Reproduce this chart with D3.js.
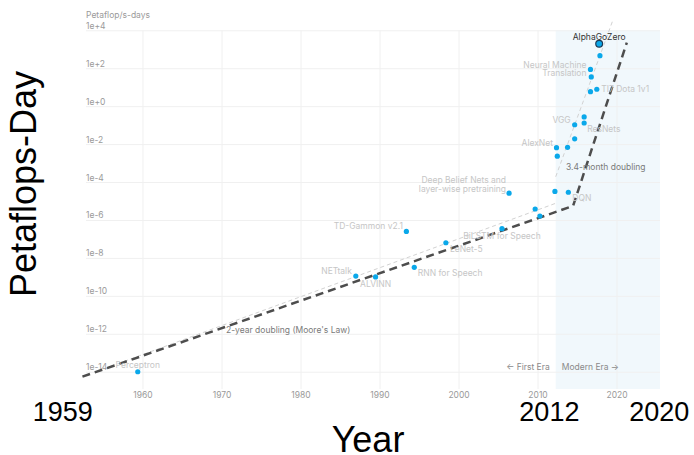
<!DOCTYPE html>
<html>
<head>
<meta charset="utf-8">
<script src="https://cdn.jsdelivr.net/npm/d3@7"></script>
<style>
  body { margin: 0; background: #fff; }
</style>
</head>
<body>
<div class="chart"></div>
<script>
// compute used by AI training runs, petaflop/s-days (log scale) vs year

const systemNames = ["Perceptron", "NETtalk", "ALVINN", "TD-Gammon v2.1", "RNN for Speech",
  "LeNet-5", "BiLSTM for Speech", "Deep Belief Nets and\nlayer-wise pretraining", "", "", "",
  "DQN", "AlexNet", "", "", "", "VGG", "", "ResNets", "", "TI7 Dota 1v1",
  "Neural Machine\nTranslation", "", "", "AlphaGoZero"];
const systemYears = [1959.4, 1987.0, 1989.5, 1993.4, 1994.4,
  1998.4, 2005.5, 2006.4, 2009.7, 2010.3, 2012.2,
  2013.9, 2012.4, 2013.8, 2012.5, 2014.7, 2014.7, 2015.9, 2015.9, 2016.7, 2017.5,
  2016.7, 2016.8, 2017.9, 2017.8];
const systemCompute = [1e-14, 1.1e-9, 1.0e-9, 2.5e-7, 3.2e-9,
  6.3e-8, 3.5e-7, 2.6e-5, 3.8e-6, 1.6e-6, 3.2e-5,
  2.9e-5, 6.5e-3, 6.8e-3, 2.3e-3, 1.9e-2, 0.105, 0.27, 0.13, 5.8, 7.8,
  87, 35, 457, 1950];

// fitted trends: [year, petaflop/s-days]
const overallTrend = [[1952.4, 5.5e-15], [2014.5, 5.5e-6], [2021.3, 2240]];
const firstEraFit = [[1956, 1.95e-14], [2012.3, 7.6e-6]];
const modernEraFit = [[2012.3, 1.9e-4], [2019.5, 3.1e4]];

const yearTicks = [1960, 1970, 1980, 1990, 2000, 2010, 2020];
const computeTicks = [1e4, 1e2, 1e0, 1e-2, 1e-4, 1e-6, 1e-8, 1e-10, 1e-12, 1e-14];
const computeTickLabels = ["1e+4", "1e+2", "1e+0", "1e-2", "1e-4", "1e-6", "1e-8", "1e-10", "1e-12", "1e-14"];

const modernEraStart = 2012.3;
const yearRange = [1952.85, 2025.5];
const computeRange = [1.23e-15, 1e4];

const bigYearLabels = ["1959", "2012", "2020"];
const bigYearAt = [1949.9, 2011.5, 2025.4];

// layout
const width = 694;
const height = 455;
const plot = {left: 86, right: 660, top: 30.3, bottom: 389};
const small = 'Inter, "Noto Sans", sans-serif';
const big = '"Liberation Sans", Arial, sans-serif';

// where each annotation sits relative to its dot
const labelPlace = {
  "Perceptron": {anchor: "middle", dx: 0, dy: -7},
  "NETtalk": {anchor: "end", dx: -4, dy: -5},
  "ALVINN": {anchor: "middle", dx: 0, dy: 7},
  "TD-Gammon v2.1": {anchor: "end", dx: -3.5, dy: -5},
  "RNN for Speech": {anchor: "start", dx: 3.5, dy: 6},
  "LeNet-5": {anchor: "start", dx: 4, dy: 6},
  "BiLSTM for Speech": {anchor: "middle", dx: 0, dy: 7.5},
  "Deep Belief Nets and\nlayer-wise pretraining": {anchor: "end", dx: -3, dy: -13.3},
  "DQN": {anchor: "start", dx: 4, dy: 6},
  "AlexNet": {anchor: "end", dx: -3.5, dy: -4.7},
  "VGG": {anchor: "end", dx: -4, dy: -4.7},
  "ResNets": {anchor: "start", dx: 3, dy: 5.7},
  "TI7 Dota 1v1": {anchor: "start", dx: 4.4, dy: 0},
  "Neural Machine\nTranslation": {anchor: "end", dx: -4, dy: -4.6},
  "AlphaGoZero": {anchor: "middle", dx: 0, dy: -7}
};

const systems = systemNames.map((n, i) => ({name: n, year: systemYears[i], pfs: systemCompute[i]}));

const x = d3.scaleLinear().domain(yearRange).range([plot.left, plot.right]);
const y = d3.scaleLog().domain(computeRange).range([plot.bottom, plot.top]);

const svg = d3.select('.chart')
  .append('svg')
  .attr('width', width)
  .attr('height', height);

// modern era shading
svg.append('rect')
  .attr('x', x(modernEraStart))
  .attr('y', y(computeRange[1]))
  .attr('width', x(yearRange[1]) - x(modernEraStart))
  .attr('height', y(computeRange[0]) - y(computeRange[1]))
  .attr('fill', '#f1f8fc');

// grid + axes
const xAxis = svg.append('g')
  .attr('transform', `translate(0,${plot.bottom})`)
  .call(d3.axisBottom(x).tickValues(yearTicks).tickFormat(d3.format('d'))
    .tickSize(-(plot.bottom - plot.top)).tickPadding(3));
xAxis.select('.domain').remove();
xAxis.selectAll('line').attr('stroke', '#f0f0f0');
xAxis.selectAll('text').attr('fill', '#9a9a9a')
  .style('font-size', '8.5px').style('font-family', small);

const yAxis = svg.append('g')
  .attr('transform', `translate(${plot.left},0)`)
  .call(d3.axisLeft(y).tickValues(computeTicks)
    .tickFormat((d, i) => computeTickLabels[i])
    .tickSize(-(plot.right - plot.left)));
yAxis.select('.domain').remove();
yAxis.selectAll('line').attr('stroke', '#f0f0f0');
yAxis.selectAll('text')
  .attr('x', 0).attr('dy', null).attr('y', -5)
  .attr('dominant-baseline', 'central')
  .attr('text-anchor', 'start')
  .attr('fill', '#9a9a9a')
  .style('font-size', '8.5px').style('font-family', small);

// small text helper
function note(px, py, str, color, anchor) {
  return svg.append('text')
    .attr('x', px).attr('y', py)
    .attr('dominant-baseline', 'central')
    .attr('text-anchor', anchor || 'start')
    .attr('fill', color)
    .style('font-size', '8.5px').style('font-family', small)
    .text(str);
}

note(plot.left, 14.5, 'Petaflop/s-days', '#9a9a9a');

// trend lines
const line = d3.line().x(d => x(d[0])).y(d => y(d[1]));

[firstEraFit, modernEraFit].forEach(fit => {
  svg.append('path')
    .attr('d', line(fit))
    .attr('fill', 'none')
    .attr('stroke', '#d2d2d2')
    .attr('stroke-width', 1)
    .attr('stroke-dasharray', '4,3');
});

svg.append('path')
  .attr('d', line(overallTrend))
  .attr('fill', 'none')
  .attr('stroke', '#4d4d4d')
  .attr('stroke-width', 2.5)
  .attr('stroke-dasharray', '8,5');

// era labels
note(x(modernEraStart) - 6, 367, '← First Era', '#8a8a8a', 'end');
note(x(modernEraStart) + 6, 367, 'Modern Era →', '#8a8a8a');

// trend labels
note(226, 330, "2-year doubling (Moore's Law)", '#7a7a7a');
note(566, 167, '3.4-month doubling', '#7a7a7a');

// dots
svg.selectAll('.dot')
  .data(systems)
  .enter()
  .append('circle')
  .attr('class', 'dot')
  .attr('cx', d => x(d.year))
  .attr('cy', d => y(d.pfs))
  .attr('r', d => d.name == 'AlphaGoZero' ? 3.4 : 2.6)
  .attr('fill', '#0aa8ea')
  .attr('stroke', d => d.name == 'AlphaGoZero' ? '#1d3a55' : 'none')
  .attr('stroke-width', 1.2);

// dot labels
systems.filter(d => labelPlace[d.name]).forEach(d => {
  const p = labelPlace[d.name];
  const t = svg.append('text')
    .attr('text-anchor', p.anchor)
    .attr('fill', d.name == 'AlphaGoZero' ? '#333' : '#c6c6c6')
    .style('font-size', '8.5px').style('font-family', small);
  d.name.split('\n').forEach((part, j) => {
    t.append('tspan')
      .attr('x', x(d.year) + p.dx)
      .attr('y', y(d.pfs) + p.dy + j * 8.7)
      .attr('dominant-baseline', 'central')
      .text(part);
  });
});

// big overlay labels
bigYearLabels.forEach((lab, i) => {
  svg.append('text')
    .attr('x', x(bigYearAt[i]))
    .attr('y', 421)
    .attr('text-anchor', 'middle')
    .attr('fill', '#000')
    .style('font-family', big)
    .style('font-size', '27px')
    .text(lab);
});

svg.append('text')
  .attr('x', 368).attr('y', 452)
  .attr('text-anchor', 'middle')
  .attr('fill', '#000')
  .style('font-family', big)
  .style('font-size', '36px')
  .text('Year');

svg.append('text')
  .attr('transform', 'rotate(-90)')
  .attr('x', -184).attr('y', 36)
  .attr('text-anchor', 'middle')
  .attr('fill', '#000')
  .style('font-family', big)
  .style('font-size', '36px')
  .text('Petaflops-Day');
</script>
</body>
</html>
